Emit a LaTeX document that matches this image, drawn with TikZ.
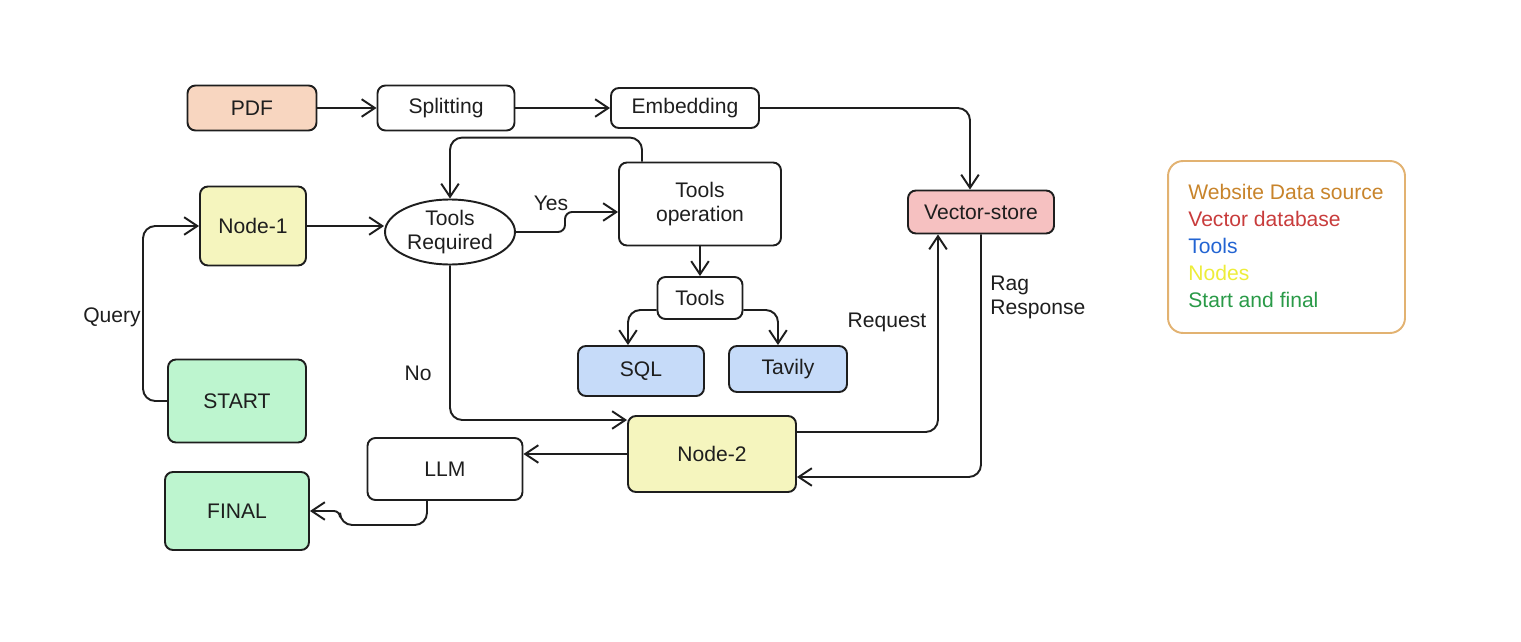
\documentclass[tikz,border=0pt]{standalone}
\usepackage{fontspec}
\setmainfont{Liberation Sans}
\usetikzlibrary{arrows.meta,shapes.geometric,calc}
\definecolor{ink}{HTML}{1E1E1E}
\definecolor{peach}{HTML}{F8D6C0}
\definecolor{yel}{HTML}{F5F5BE}
\definecolor{blu}{HTML}{C6DBF9}
\definecolor{rosa}{HTML}{F6C1C1}
\definecolor{grn}{HTML}{BDF5CF}
\definecolor{legborder}{HTML}{E2B271}
\definecolor{cweb}{HTML}{C8842B}
\definecolor{cvec}{HTML}{C83C3C}
\definecolor{ctool}{HTML}{2364D2}
\definecolor{cnode}{HTML}{EDED3A}
\definecolor{cstart}{HTML}{2A9A48}
\begin{document}
\begin{tikzpicture}[x=0.02cm,y=-0.02cm,
  font=\fontsize{12}{13.6}\selectfont,
  box/.style={draw=ink, line width=1.1pt, rounded corners=4.5pt, align=center, inner sep=0pt, text=ink},
  ell/.style={draw=ink, line width=1.1pt, ellipse, align=center, inner sep=0pt, text=ink},
  arr/.style={draw=ink, line width=1.1pt, rounded corners=7pt, -{Straight Barb[length=7.5pt,width=10pt]}},
  lbl/.style={text=ink, inner sep=0pt},
  legtxt/.style={anchor=base west, inner sep=0pt}]
\useasboundingbox (0,0) rectangle (1521,642);
% nodes
\node[box, fill=peach, minimum width=2.58cm, minimum height=0.90cm] (pdf) at (252,108) {PDF};
\node[box, minimum width=2.74cm, minimum height=0.90cm] (split) at (446,108) {Splitting};
\node[box, minimum width=2.96cm, minimum height=0.80cm] (emb) at (685,108) {Embedding};
\node[box, fill=yel, minimum width=2.12cm, minimum height=1.58cm] (n1) at (253,226) {Node-1};
\node[ell, minimum width=2.60cm, minimum height=1.30cm] (tr) at (450,232) {Tools\\Required};
\node[box, minimum width=3.24cm, minimum height=1.66cm] (to) at (700,204) {Tools\\operation};
\node[box, minimum width=1.70cm, minimum height=0.84cm] (tl) at (700,298) {Tools};
\node[box, fill=blu, minimum width=2.52cm, minimum height=1.00cm] (sql) at (641,371) {SQL};
\node[box, fill=blu, minimum width=2.36cm, minimum height=0.92cm] (tav) at (788,369) {Tavily};
\node[box, fill=rosa, minimum width=2.92cm, minimum height=0.86cm] (vs) at (981,212) {Vector-store};
\node[box, fill=grn, minimum width=2.76cm, minimum height=1.66cm] (st) at (237,401) {START};
\node[box, fill=grn, minimum width=2.88cm, minimum height=1.56cm] (fin) at (237,511) {FINAL};
\node[box, minimum width=3.10cm, minimum height=1.24cm] (llm) at (445,469) {LLM};
\node[box, fill=yel, minimum width=3.36cm, minimum height=1.52cm] (n2) at (712,454) {Node-2};
% legend
\node[draw=legborder, line width=1.1pt, rounded corners=8.5pt, minimum width=4.74cm, minimum height=3.44cm, inner sep=0pt] (leg) at (1286.5,247) {};
\node[legtxt, text=cweb] (l1) at (1188,199) {Website Data source};
\node[legtxt, text=cvec] (l2) at (1188,226) {Vector database};
\node[legtxt, text=ctool] (l3) at (1188,253) {Tools};
\node[legtxt, text=cnode] (l4) at (1188,280) {Nodes};
\node[legtxt, text=cstart] (l5) at (1188,307) {Start and final};
% labels
\node[lbl] (lq) at (112,317) {Query};
\node[lbl] (lno) at (418,373) {No};
\node[lbl] (lyes) at (551,203) {Yes};
\node[lbl] (lreq) at (887,322) {Request};
\node[lbl, anchor=west, align=left] (lrag) at (990,297) {Rag\\Response};
% connectors
\draw[arr] (pdf.east) -- (split.west);
\draw[arr] (split.east) -- (emb.west);
\draw[arr] (emb.east) -| ([xshift=-0.22cm]vs.north);
\draw[arr] ([xshift=-1.16cm]to.north) -- ++(0,-24) -| (tr.north);
\draw[arr] (n1.east) -- (n1.east -| tr.west);
\draw[arr] (st.west) -- (143,401) |- (n1.west);
\draw[arr, rounded corners=4pt] (tr.east) -- (565,232) -- (565,212) -- ([yshift=-0.16cm]to.west);
\draw[arr] (to.south) -- (tl.north);
\draw[arr] ([yshift=-0.24cm]tl.west) -| ([xshift=-0.26cm]sql.north);
\draw[arr] ([yshift=-0.24cm]tl.east) -| ([xshift=-0.20cm]tav.north);
\draw[arr] (tr.south) |- ([yshift=0.68cm]n2.west);
\draw[arr] (n2.west) -- (n2.west -| llm.east);
\draw[arr] ([xshift=-0.36cm]llm.south) |- (340,525) [rounded corners=3.5pt] -- (340,511) -- (fin.east);
\draw[arr] ([yshift=0.44cm]n2.east) -| ([xshift=-0.86cm]vs.south);
\draw[arr] (vs.south) |- ([yshift=-0.46cm]n2.east);
\end{tikzpicture}
\end{document}
